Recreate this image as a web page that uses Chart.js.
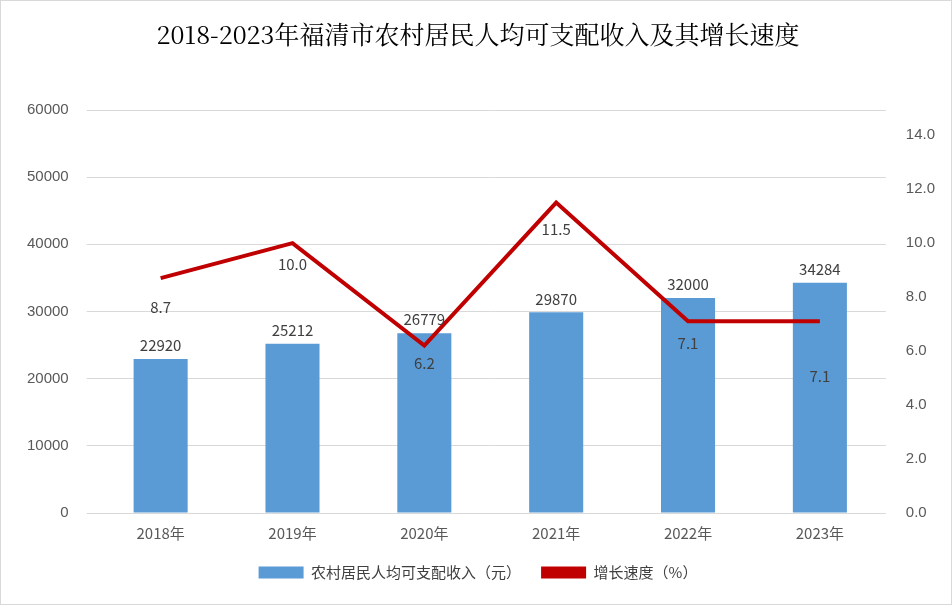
<!DOCTYPE html>
<html lang="zh">
  <head>
    <meta charset="UTF-8">
    <title>福清市农村居民人均可支配收入</title>
    <script src="https://cdn.jsdelivr.net/npm/chart.js"></script>
    <style>
      body { margin: 0; background: #fff; }
      #wrap { width: 950px; height: 603px; border: 1px solid #d9d9d9; }
    </style>
  </head>
  <body>
  <div id="wrap"><canvas id="chart" width="950" height="603"></canvas></div>
    <script>
    const years = ['2018年', '2019年', '2020年', '2021年', '2022年', '2023年'];
    const income = [22920, 25212, 26779, 29870, 32000, 34284];
    const growth = [8.7, 10.0, 6.2, 11.5, 7.1, 7.1];

    // label offsets below the line points (px)
    const lineLabelDy = [29, 21, 18, 27, 22, 55];

    const labelPlugin = {
      id: 'labels',
      afterDatasetsDraw(chart) {
        const ctx = chart.ctx;
        ctx.save();
        ctx.font = '15px "Noto Sans CJK SC", sans-serif';
        ctx.fillStyle = '#404040';
        ctx.textAlign = 'center';
        chart.getDatasetMeta(0).data.forEach((bar, i) => {
          ctx.textBaseline = 'bottom';
          ctx.fillText(income[i], bar.x, bar.y - 6);
        });
        chart.getDatasetMeta(1).data.forEach((pt, i) => {
          ctx.textBaseline = 'middle';
          ctx.fillText(growth[i].toFixed(1), pt.x, pt.y + lineLabelDy[i]);
        });
        ctx.restore();
      }
    };

    const ctx = document.getElementById('chart').getContext('2d');
    new Chart(ctx, {
      type: 'bar',
      data: {
        labels: years,
        datasets: [
          {
            label: '农村居民人均可支配收入（元）',
            data: income,
            backgroundColor: '#5b9bd5',
            barPercentage: 0.41,
            categoryPercentage: 1,
            yAxisID: 'y',
            order: 2
          },
          {
            type: 'line',
            label: '增长速度（%）',
            data: growth,
            borderColor: '#c00000',
            backgroundColor: '#c00000',
            borderWidth: 4,
            pointRadius: 0,
            tension: 0,
            yAxisID: 'y1',
            order: 1
          }
        ]
      },
      options: {
        responsive: false,
        animation: false,
        layout: { padding: { left: 8, right: 4, top: 0, bottom: 14 } },
        plugins: {
          title: {
            display: true,
            text: '2018-2023年福清市农村居民人均可支配收入及其增长速度',
            font: { size: 25, family: '"Noto Serif CJK SC", "Noto Sans CJK SC", serif', weight: 'normal' },
            color: '#000',
            padding: { top: 18, bottom: 61 }
          },
          legend: {
            position: 'bottom',
            labels: {
              font: { size: 15, family: '"Noto Sans CJK SC", sans-serif' },
              color: '#404040',
              boxWidth: 45,
              boxHeight: 12,
              padding: 20,
              generateLabels(chart) {
                return chart.data.datasets.map((d, i) => ({
                  text: d.label,
                  fillStyle: d.backgroundColor,
                  strokeStyle: d.backgroundColor,
                  lineWidth: 0,
                  datasetIndex: i,
                  fontColor: '#404040'
                }));
              }
            }
          },
          tooltip: { enabled: false }
        },
        scales: {
          x: {
            grid: { display: false },
            border: { color: '#d9d9d9' },
            ticks: { color: '#595959', font: { size: 15, family: '"Noto Sans CJK SC", sans-serif' } }
          },
          y: {
            position: 'left',
            min: 0, max: 60000,
            ticks: { stepSize: 10000, color: '#595959', padding: 18, font: { size: 15 }, callback: v => String(v) },
            grid: { color: '#d9d9d9' },
            border: { display: false }
          },
          y1: {
            position: 'right',
            min: 0, max: 14.93,
            afterBuildTicks(axis) {
              axis.ticks = [0, 2, 4, 6, 8, 10, 12, 14].map(v => ({ value: v }));
            },
            ticks: { color: '#595959', padding: 12, font: { size: 15 }, callback: v => v.toFixed(1) },
            grid: { display: false },
            border: { display: false }
          }
        }
      },
      plugins: [labelPlugin]
    });
    </script>
  </body>
</html>
